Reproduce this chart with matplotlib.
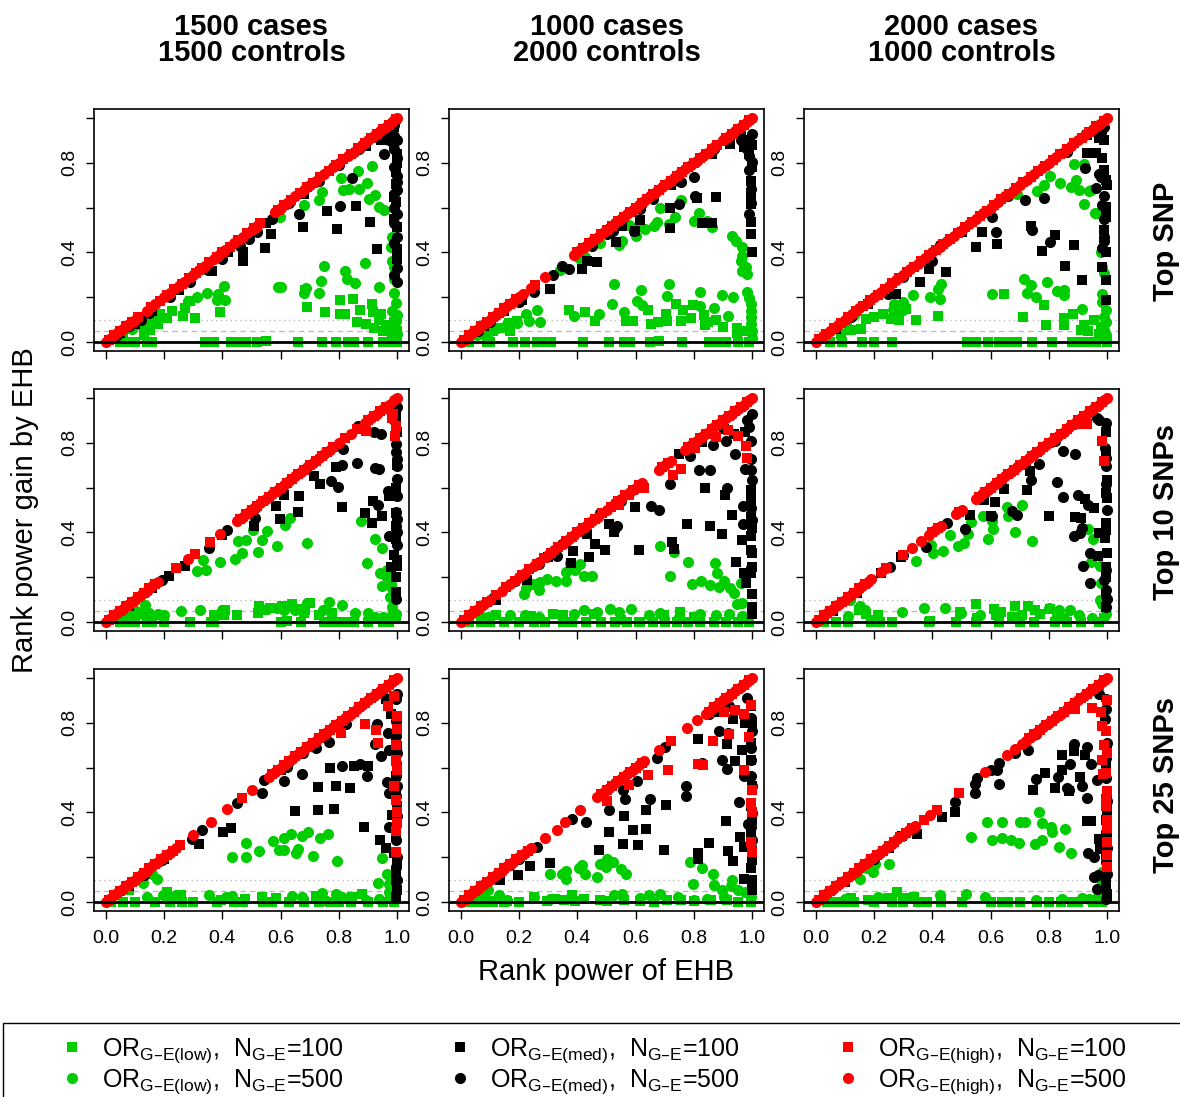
import matplotlib
matplotlib.use("Agg")
import matplotlib.pyplot as plt
from matplotlib.lines import Line2D
from matplotlib.patches import Rectangle

plt.rcParams['font.family'] = ['Liberation Sans', 'DejaVu Sans']
plt.rcParams['mathtext.default'] = 'regular'

col_title_top = ["1500 cases", "1000 cases", "2000 cases"]
col_title_bottom = ["1500 controls", "2000 controls", "1000 controls"]
row_titles = ["Top SNP", "Top 10 SNPs", "Top 25 SNPs"]
x_ticks = [0.0, 0.2, 0.4, 0.6, 0.8, 1.0]
x_tick_labels = ["0.0", "0.2", "0.4", "0.6", "0.8", "1.0"]
y_tick_labels = ["0.0", "", "0.4", "", "0.8", ""]
ref_lines = [0.0, 0.05, 0.1]
legend_labels = [
    "OR$_{G\u2013E(low)}$,  N$_{G\u2013E}$=100", "OR$_{G\u2013E(low)}$,  N$_{G\u2013E}$=500",
    "OR$_{G\u2013E(med)}$,  N$_{G\u2013E}$=100", "OR$_{G\u2013E(med)}$,  N$_{G\u2013E}$=500",
    "OR$_{G\u2013E(high)}$,  N$_{G\u2013E}$=100", "OR$_{G\u2013E(high)}$,  N$_{G\u2013E}$=500",
]

# ---- panel row 1, col 1 ----
p11_gs = [(0.05,0.0),(0.08,0.0),(0.1,0.0),(0.14,0.0),(0.16,0.0),(0.34,0.0),(0.37,0.0),(0.43,0.0),(0.46,0.0),
          (0.48,0.0),(0.52,0.0),(0.55,0.005),(0.66,0.0),(0.74,0.0),(0.79,0.0),(0.83,0.0),(0.85,0.0),(0.9,0.0),
          (0.95,0.0),(0.97,0.0),(1.0,0.0),(0.99,0.01),(0.69,0.157),(0.684,0.232),(0.753,0.136),(0.805,0.187),
          (0.847,0.191),(0.805,0.127),(0.822,0.127),(0.872,0.142),(0.914,0.169),(0.916,0.132),(0.943,0.124),
          (0.937,0.097),(0.96,0.076),(0.977,0.064),(0.92,0.064),(0.95,0.05),(0.891,0.079),(0.862,0.091),
          (1.0,0.049),(0.306,0.109),(0.272,0.154),(0.266,0.117),(0.226,0.139),(0.209,0.109),(0.186,0.124),
          (0.18,0.079),(0.151,0.052),(0.117,0.076),(0.083,0.057),(0.392,0.132),(0.289,0.184),(0.13,0.03),
          (0.06,0.04),(0.98,0.03),(0.99,0.09)]
p11_gc = [(0.914,0.786),(0.865,0.762),(0.808,0.732),(0.813,0.677),(0.897,0.71),(0.87,0.685),(0.833,0.685),
          (0.902,0.64),(0.925,0.655),(0.937,0.602),(0.954,0.59),(0.742,0.67),(0.73,0.632),(0.679,0.61),
          (0.599,0.558),(0.748,0.341),(0.739,0.274),(0.819,0.315),(0.826,0.281),(0.856,0.262),(0.89,0.351),
          (0.937,0.247),(0.983,0.468),(0.977,0.423),(0.983,0.363),(0.989,0.333),(0.989,0.281),(0.989,0.221),
          (0.994,0.176),(0.983,0.139),(0.994,0.094),(1.0,0.034),(0.994,0.06),(1.0,0.12),(0.679,0.221),
          (0.73,0.221),(0.688,0.239),(0.59,0.247),(0.6,0.245),(0.404,0.251),(0.346,0.221),(0.386,0.214),
          (0.409,0.187),(0.38,0.187),(0.312,0.199),(0.283,0.184),(0.329,0.326),(0.117,0.1),(0.12,0.08),
          (0.16,0.1),(0.15,0.07),(0.09,0.06)]
p11_ks = [(0.675,0.513),(0.547,0.419),(0.47,0.40),(0.47,0.363),(0.567,0.483),(0.794,0.505),(0.759,0.583),
          (0.906,0.534),(0.929,0.413),(0.857,0.605),(0.894,0.876),(0.943,0.901),(0.994,0.759),(0.994,0.707),
          (0.988,0.647),(0.994,0.625),(1.0,0.513),(1.0,0.416),(1.0,0.371),(0.988,0.55),(1.0,0.84),(0.366,0.318),
          (0.98,0.93),(0.99,0.88),(1.0,0.8),(0.99,0.96),(0.05,0.04),(0.1,0.08),(0.16,0.14),(0.25,0.23),
          (0.42,0.4),(0.55,0.53),(0.68,0.66)]
p11_kc = [(0.04,0.03),(0.08,0.07),(0.12,0.1),(0.15,0.13),(0.22,0.2),(0.29,0.27),(0.35,0.32),(0.4,0.37),
          (0.46,0.43),(0.49,0.46),(0.52,0.49),(0.57,0.55),(0.63,0.62),(0.73,0.72),(0.8,0.79),(0.87,0.86),
          (0.93,0.92),(0.664,0.572),(0.803,0.605),(0.846,0.732),(0.954,0.839),(1.0,0.715),(1.0,0.677),
          (0.99,0.66),(1.0,0.266),(0.99,0.97),(0.98,0.95),(0.99,0.92),(1.0,0.9),(0.99,0.86),(1.0,0.82),
          (0.99,0.78),(1.0,0.74),(0.99,0.6),(1.0,0.57),(0.99,0.53),(1.0,0.47),(0.99,0.44),(1.0,0.33),
          (0.99,0.3),(0.95,0.93),(0.97,0.9)]
p11_rs = [(0.01,0.01),(0.03,0.03),(0.05,0.05),(0.07,0.07),(0.09,0.09),(0.11,0.11),(0.155,0.155),
          (0.185,0.185),(0.21,0.21),(0.235,0.235),(0.26,0.26),(0.285,0.285),(0.31,0.31),(0.33,0.33),
          (0.355,0.355),(0.38,0.38),(0.4,0.4),(0.425,0.425),(0.455,0.455),(0.485,0.485),(0.51,0.51),
          (0.53,0.53),(0.59,0.59),(0.61,0.61),(0.635,0.635),(0.665,0.665),(0.69,0.69),(0.71,0.71),
          (0.735,0.735),(0.765,0.765),(0.79,0.79),(0.815,0.815),(0.84,0.84),(0.865,0.865),(0.89,0.89),
          (0.91,0.91),(0.93,0.93),(0.95,0.95),(0.97,0.97),(0.995,0.995)]
p11_rc = [(0.0,0.0),(0.02,0.02),(0.04,0.04),(0.06,0.06),(0.08,0.08),(0.1,0.1),(0.14,0.14),(0.17,0.17),
          (0.2,0.2),(0.22,0.22),(0.25,0.25),(0.27,0.27),(0.3,0.3),(0.32,0.32),(0.34,0.34),(0.37,0.37),
          (0.39,0.39),(0.41,0.41),(0.44,0.44),(0.47,0.47),(0.5,0.5),(0.52,0.52),(0.58,0.58),(0.6,0.6),
          (0.62,0.62),(0.65,0.65),(0.68,0.68),(0.7,0.7),(0.72,0.72),(0.75,0.75),(0.78,0.78),(0.8,0.8),
          (0.83,0.83),(0.85,0.85),(0.88,0.88),(0.9,0.9),(0.92,0.92),(0.94,0.94),(0.96,0.96),(0.98,0.98),
          (0.99,0.99),(1.0,1.0)]

# ---- panel row 1, col 2 ----
p12_gs = [(0.03,0.0),(0.09,0.0),(0.1,0.0),(0.18,0.0),(0.22,0.0),(0.26,0.0),(0.29,0.0),(0.31,0.0),(0.42,0.0),
          (0.51,0.0),(0.56,0.0),(0.58,0.0),(0.65,0.0),(0.68,0.005),(0.76,0.0),(0.85,0.0),(0.88,0.0),(0.91,0.0),
          (0.95,0.0),(0.99,0.0),(0.373,0.145),(0.425,0.133),(0.462,0.096),(0.568,0.096),(0.591,0.093),
          (0.641,0.141),(0.651,0.081),(0.676,0.088),(0.705,0.126),(0.708,0.096),(0.737,0.168),(0.762,0.141),
          (0.756,0.093),(0.79,0.108),(0.796,0.165),(0.834,0.12),(0.836,0.075),(0.848,0.09),(0.877,0.1),
          (0.9,0.069),(0.948,0.063),(0.948,0.04),(0.983,0.048),(0.084,0.036),(0.112,0.048),(0.147,0.063),
          (0.164,0.085),(0.192,0.093),(0.17,0.05),(0.095,0.018)]
p12_gc = [(0.754,0.635),(0.685,0.599),(0.736,0.557),(0.713,0.527),(0.674,0.534),(0.662,0.519),(0.633,0.504),
          (0.605,0.512),(0.576,0.524),(0.602,0.475),(0.553,0.452),(0.542,0.434),(0.479,0.44),(0.427,0.38),
          (0.404,0.374),(0.341,0.32),(0.817,0.575),(0.8,0.542),(0.845,0.542),(0.862,0.512),(0.931,0.475),
          (0.943,0.452),(0.966,0.422),(0.966,0.385),(0.96,0.362),(0.977,0.337),(0.966,0.317),(0.983,0.305),
          (0.983,0.225),(0.989,0.198),(0.994,0.168),(0.994,0.138),(0.994,0.081),(1.0,0.048),(0.525,0.257),
          (0.713,0.257),(0.619,0.231),(0.822,0.223),(0.897,0.208),(0.934,0.201),(0.519,0.168),(0.605,0.183),
          (0.622,0.165),(0.559,0.133),(0.473,0.127),(0.387,0.115),(0.708,0.205),(0.822,0.163),(0.868,0.153),
          (0.916,0.118),(0.261,0.145),(0.224,0.123),(0.273,0.09),(0.233,0.093),(0.192,0.085),(0.158,0.081),
          (0.124,0.063),(0.089,0.048),(0.055,0.033),(0.994,0.11),(1.0,0.02)]
p12_ks = [(0.96,0.92),(0.98,0.9),(0.97,0.87),(1.0,0.88),(0.99,0.84),(0.994,0.534),(0.994,0.482),(1.0,0.4),
          (0.994,0.72),(0.994,0.617),(0.994,0.66),(1.0,0.78),(0.874,0.647),(0.811,0.644),(0.719,0.599),
          (0.719,0.507),(0.862,0.53),(0.828,0.53),(0.553,0.519),(0.533,0.445),(0.433,0.362),(0.467,0.355),
          (0.416,0.325),(0.307,0.235),(0.616,0.545),(0.597,0.497),(0.925,0.886),(0.862,0.841),(0.21,0.186),
          (0.15,0.14),(0.08,0.07),(0.72,0.7)]
p12_kc = [(0.8,0.737),(0.805,0.65),(0.748,0.617),(0.616,0.594),(0.594,0.497),(0.522,0.497),(0.347,0.34),
          (0.37,0.325),(0.318,0.298),(0.25,0.225),(0.754,0.714),(0.989,0.766),(0.994,0.684),(1.0,0.804),
          (0.99,0.83),(0.98,0.86),(0.97,0.88),(0.99,0.9),(1.0,0.93),(0.96,0.9),(0.994,0.62),(0.99,0.57),
          (0.45,0.43),(0.66,0.64),(0.73,0.72),(0.87,0.86),(0.1,0.09),(0.06,0.05),(0.2,0.18),(0.5,0.48)]
p12_rs = [(0.01,0.01),(0.03,0.03),(0.05,0.05),(0.07,0.07),(0.09,0.09),(0.11,0.11),(0.13,0.13),(0.15,0.15),
          (0.17,0.17),(0.19,0.19),(0.255,0.255),(0.4,0.4),(0.42,0.42),(0.44,0.44),(0.46,0.46),(0.48,0.48),
          (0.5,0.5),(0.52,0.52),(0.54,0.54),(0.56,0.56),(0.58,0.58),(0.6,0.6),(0.62,0.62),(0.64,0.64),
          (0.66,0.66),(0.68,0.68),(0.7,0.7),(0.72,0.72),(0.74,0.74),(0.76,0.76),(0.78,0.78),(0.8,0.8),
          (0.82,0.82),(0.84,0.84),(0.86,0.86),(0.88,0.88),(0.91,0.91),(0.93,0.93),(0.95,0.95),(0.97,0.97),
          (0.99,0.99)]
p12_rc = [(0.0,0.0),(0.02,0.02),(0.04,0.04),(0.06,0.06),(0.08,0.08),(0.1,0.1),(0.12,0.12),(0.14,0.14),
          (0.16,0.16),(0.18,0.18),(0.2,0.2),(0.215,0.215),(0.24,0.24),(0.29,0.29),(0.39,0.39),(0.41,0.41),
          (0.43,0.43),(0.45,0.45),(0.47,0.47),(0.49,0.49),(0.51,0.51),(0.53,0.53),(0.55,0.55),(0.57,0.57),
          (0.59,0.59),(0.61,0.61),(0.63,0.63),(0.65,0.65),(0.67,0.67),(0.69,0.69),(0.71,0.71),(0.73,0.73),
          (0.75,0.75),(0.77,0.77),(0.79,0.79),(0.81,0.81),(0.83,0.83),(0.85,0.85),(0.87,0.87),(0.9,0.9),
          (0.92,0.92),(0.94,0.94),(0.96,0.96),(0.98,0.98),(1.0,1.0)]

# ---- panel row 1, col 3 ----
p13_gs = [(0.05,0.0),(0.09,0.0),(0.16,0.0),(0.2,0.0),(0.26,0.0),(0.52,0.0),(0.55,0.0),(0.59,0.0),(0.63,0.0),
          (0.66,0.0),(0.69,0.0),(0.74,0.0),(0.81,0.0),(0.88,0.0),(0.9,0.0),(0.93,0.0),(0.96,0.0),(1.0,0.0),
          (0.646,0.213),(0.71,0.112),(0.784,0.164),(0.791,0.075),(0.851,0.109),(0.851,0.075),(0.883,0.124),
          (0.908,0.052),(0.92,0.075),(0.935,0.05),(0.954,0.097),(0.971,0.037),(0.977,0.067),(0.42,0.115),
          (0.345,0.1),(0.287,0.1),(0.259,0.104),(0.23,0.127),(0.201,0.112),(0.172,0.104),(0.276,0.142),
          (0.31,0.149),(0.155,0.06),(0.121,0.052),(0.086,0.037),(0.99,0.02)]
p13_gc = [(0.885,0.794),(0.92,0.793),(0.805,0.741),(0.839,0.708),(0.874,0.69),(0.891,0.723),(0.902,0.678),
          (0.92,0.618),(0.937,0.675),(0.945,0.678),(0.782,0.7),(0.759,0.675),(0.69,0.66),(0.957,0.574),
          (0.969,0.577),(0.977,0.402),(0.983,0.335),(0.989,0.306),(0.98,0.216),(0.983,0.179),(0.994,0.142),
          (0.994,0.089),(0.989,0.052),(0.914,0.149),(0.713,0.283),(0.739,0.253),(0.726,0.219),(0.755,0.201),
          (0.793,0.268),(0.826,0.228),(0.851,0.231),(0.851,0.209),(0.603,0.213),(0.431,0.261),(0.42,0.238),
          (0.391,0.201),(0.425,0.194),(0.333,0.209),(0.301,0.179),(0.27,0.171),(0.264,0.142),(0.299,0.142),
          (0.132,0.119),(0.103,0.089),(0.115,0.06),(0.994,0.03),(0.99,0.11)]
p13_ks = [(0.931,0.842),(0.983,0.82),(0.989,0.768),(0.994,0.723),(0.998,0.7),(0.989,0.499),(0.994,0.559),
          (0.994,0.604),(0.983,0.335),(0.994,0.276),(0.994,0.186),(0.914,0.276),(0.856,0.338),(0.885,0.435),
          (0.822,0.477),(0.776,0.405),(0.738,0.517),(0.623,0.437),(0.571,0.489),(0.549,0.425),(0.448,0.313),
          (0.389,0.328),(0.356,0.268),(0.276,0.216),(0.931,0.924),(0.971,0.909),(0.96,0.842),(0.99,0.9),
          (0.994,0.4),(0.07,0.06),(0.18,0.17),(0.5,0.49)]
p13_kc = [(0.716,0.636),(0.782,0.645),(0.603,0.559),(0.617,0.492),(0.802,0.447),(0.741,0.499),(0.925,0.775),
          (0.96,0.686),(0.977,0.738),(0.97,0.75),(0.989,0.65),(0.983,0.61),(0.989,0.47),(0.983,0.42),
          (0.989,0.45),(0.99,0.55),(0.425,0.432),(0.4,0.361),(0.247,0.216),(0.977,0.939),(0.96,0.95),
          (0.99,0.96),(0.86,0.85),(0.66,0.65),(0.38,0.37),(0.3,0.29),(0.12,0.11)]
p13_rs = [(0.012,0.012),(0.037,0.037),(0.062,0.062),(0.087,0.087),(0.112,0.112),(0.137,0.137),
          (0.162,0.162),(0.187,0.187),(0.212,0.212),(0.237,0.237),(0.262,0.262),(0.287,0.287),
          (0.312,0.312),(0.337,0.337),(0.362,0.362),(0.387,0.387),(0.412,0.412),(0.437,0.437),
          (0.462,0.462),(0.487,0.487),(0.512,0.512),(0.537,0.537),(0.562,0.562),(0.587,0.587),
          (0.612,0.612),(0.637,0.637),(0.662,0.662),(0.687,0.687),(0.712,0.712),(0.737,0.737),
          (0.762,0.762),(0.787,0.787),(0.812,0.812),(0.837,0.837),(0.862,0.862),(0.887,0.887),
          (0.912,0.912),(0.937,0.937),(0.962,0.962),(0.987,0.987)]
p13_rc = [(0.0,0.0),(0.025,0.025),(0.05,0.05),(0.075,0.075),(0.1,0.1),(0.125,0.125),(0.15,0.15),
          (0.175,0.175),(0.2,0.2),(0.225,0.225),(0.25,0.25),(0.275,0.275),(0.3,0.3),(0.325,0.325),
          (0.35,0.35),(0.375,0.375),(0.4,0.4),(0.425,0.425),(0.45,0.45),(0.475,0.475),(0.5,0.5),
          (0.525,0.525),(0.55,0.55),(0.575,0.575),(0.6,0.6),(0.625,0.625),(0.65,0.65),(0.675,0.675),
          (0.7,0.7),(0.725,0.725),(0.75,0.75),(0.775,0.775),(0.8,0.8),(0.825,0.825),(0.85,0.85),
          (0.875,0.875),(0.9,0.9),(0.925,0.925),(0.95,0.95),(0.975,0.975),(1.0,1.0)]

# ---- panel row 2, col 1 ----
p21_gs = [(0.05,0.0),(0.08,0.0),(0.1,0.0),(0.14,0.0),(0.16,0.0),(0.2,0.0),(0.29,0.0),(0.36,0.0),(0.37,0.0),
          (0.6,0.0),(0.67,0.0),(0.75,0.0),(0.78,0.0),(0.8,0.0),(0.82,0.0),(0.85,0.0),(0.9,0.0),(0.95,0.0),
          (0.97,0.0),(0.525,0.07),(0.537,0.052),(0.562,0.063),(0.605,0.07),(0.639,0.079),(0.662,0.06),
          (0.685,0.052),(0.699,0.085),(0.68,0.04),(0.41,0.052),(0.407,0.033),(0.373,0.033),(0.45,0.033),
          (0.521,0.042),(0.731,0.03),(0.777,0.04),(0.622,0.003),(0.06,0.037),(0.078,0.02),(0.994,0.02)]
p21_gc = [(0.877,0.452),(0.922,0.371),(0.948,0.329),(0.895,0.265),(0.965,0.232),(0.94,0.217),(0.96,0.205),
          (0.946,0.162),(0.977,0.169),(0.974,0.21),(0.98,0.15),(0.975,0.112),(0.983,0.067),(0.997,0.037),
          (0.691,0.352),(0.633,0.464),(0.614,0.434),(0.553,0.407),(0.536,0.364),(0.505,0.412),(0.481,0.367),
          (0.454,0.362),(0.467,0.31),(0.522,0.314),(0.444,0.281),(0.588,0.341),(0.391,0.266),(0.333,0.275),
          (0.313,0.229),(0.345,0.232),(0.135,0.075),(0.103,0.049),(0.09,0.03),(0.124,0.037),(0.179,0.037),
          (0.259,0.048),(0.322,0.055),(0.399,0.055),(0.767,0.09),(0.746,0.052),(0.855,0.042),(0.9,0.042),
          (0.925,0.022),(0.95,0.022),(0.98,0.03),(0.691,0.085),(0.648,0.052),(0.553,0.057),(0.588,0.063),
          (0.61,0.055),(0.811,0.075),(0.055,0.03),(0.15,0.04),(0.2,0.03)]
p21_ks = [(0.714,0.651),(0.734,0.617),(0.788,0.692),(0.811,0.513),(0.662,0.561),(0.658,0.49),(0.61,0.569),
          (0.584,0.516),(0.596,0.461),(0.507,0.427),(0.273,0.25),(0.218,0.205),(0.889,0.487),(0.914,0.442),
          (0.948,0.472),(0.916,0.542),(0.971,0.561),(0.994,0.599),(0.994,0.966),(0.994,0.92),(1.0,0.85),
          (0.994,0.487),(0.994,0.43),(1.0,0.277),(1.0,0.25),(0.989,0.299),(0.994,0.202),(0.994,0.135),
          (0.977,0.247),(1.0,0.7),(0.994,0.37),(0.08,0.07),(0.16,0.15),(0.4,0.39)]
p21_kc = [(0.866,0.873),(0.92,0.846),(0.945,0.838),(0.814,0.774),(0.811,0.701),(0.863,0.711),(0.771,0.629),
          (0.796,0.603),(0.922,0.689),(0.937,0.681),(0.935,0.521),(0.969,0.584),(0.971,0.382),(0.994,0.793),
          (0.994,0.76),(0.998,0.726),(1.0,0.696),(1.0,0.639),(1.0,0.561),(0.994,0.49),(0.998,0.46),
          (0.994,0.427),(1.0,0.4),(1.0,0.344),(0.994,0.105),(1.0,0.958),(0.98,0.958),(0.99,0.9),(0.511,0.464),
          (0.513,0.509),(0.416,0.412),(0.353,0.329),(0.192,0.187),(0.591,0.59),(0.6,0.59)]
p21_rs = [(0.24,0.24),(0.307,0.305),(0.356,0.355),(0.891,0.853),(0.992,0.831),(0.994,0.876),(0.98,0.91),
          (0.01,0.01),(0.03,0.03),(0.05,0.05),(0.07,0.07),(0.09,0.09),(0.11,0.11),(0.13,0.13),(0.15,0.15),
          (0.17,0.17),(0.46,0.46),(0.48,0.48),(0.5,0.5),(0.52,0.52),(0.54,0.54),(0.56,0.56),(0.58,0.58),
          (0.6,0.6),(0.62,0.62),(0.64,0.64),(0.66,0.66),(0.68,0.68),(0.7,0.7),(0.72,0.72),(0.74,0.74),
          (0.76,0.76),(0.78,0.78),(0.82,0.82),(0.86,0.86),(0.9,0.9),(0.92,0.92),(0.94,0.94),(0.96,0.96),
          (0.985,0.93)]
p21_rc = [(0.0,0.0),(0.02,0.02),(0.04,0.04),(0.06,0.06),(0.08,0.08),(0.1,0.1),(0.12,0.12),(0.14,0.14),
          (0.16,0.16),(0.18,0.18),(0.282,0.28),(0.393,0.393),(0.45,0.45),(0.47,0.47),(0.49,0.49),
          (0.51,0.51),(0.53,0.53),(0.55,0.55),(0.57,0.57),(0.59,0.59),(0.61,0.61),(0.63,0.63),(0.65,0.65),
          (0.67,0.67),(0.69,0.69),(0.71,0.71),(0.73,0.73),(0.75,0.75),(0.77,0.77),(0.8,0.8),(0.84,0.84),
          (0.89,0.89),(0.91,0.91),(0.93,0.93),(0.95,0.95),(0.97,0.97),(0.99,0.99),(1.0,1.0)]

# ---- panel row 2, col 2 ----
p22_gs = [(0.03,0.0),(0.07,0.0),(0.1,0.0),(0.15,0.0),(0.2,0.0),(0.25,0.0),(0.29,0.0),(0.35,0.0),(0.38,0.0),
          (0.43,0.0),(0.48,0.0),(0.53,0.0),(0.57,0.0),(0.61,0.0),(0.66,0.0),(0.7,0.0),(0.74,0.0),(0.78,0.0),
          (0.82,0.0),(0.87,0.0),(0.91,0.0),(0.95,0.0),(0.99,0.0),(0.24,0.025),(0.318,0.037),(0.35,0.03),
          (0.456,0.037),(0.548,0.008),(0.616,0.0),(0.696,0.033),(0.751,0.045),(0.8,0.022),(0.12,0.03)]
p22_gc = [(0.685,0.34),(0.731,0.311),(0.779,0.269),(0.872,0.262),(0.88,0.22),(0.717,0.205),(0.794,0.169),
          (0.825,0.183),(0.854,0.165),(0.885,0.157),(0.902,0.183),(0.923,0.15),(0.937,0.13),(0.96,0.172),
          (0.946,0.082),(0.965,0.085),(0.376,0.265),(0.408,0.259),(0.362,0.225),(0.391,0.232),(0.362,0.184),
          (0.327,0.184),(0.297,0.19),(0.273,0.18),(0.247,0.169),(0.225,0.15),(0.216,0.127),(0.267,0.145),
          (0.424,0.205),(0.45,0.205),(0.17,0.03),(0.22,0.03),(0.27,0.022),(0.387,0.037),(0.422,0.055),
          (0.467,0.045),(0.511,0.06),(0.542,0.045),(0.585,0.06),(0.645,0.03),(0.683,0.04),(0.75,0.022),
          (0.82,0.037),(0.874,0.03),(0.92,0.037),(0.966,0.025),(0.983,0.02),(0.095,0.022),(0.066,0.03)]
p22_ks = [(0.748,0.749),(0.837,0.599),(0.905,0.569),(0.777,0.437),(0.855,0.43),(0.897,0.394),(0.929,0.479),
          (0.963,0.367),(0.943,0.269),(0.971,0.217),(0.977,0.172),(0.723,0.356),(0.731,0.325),(0.611,0.322),
          (0.599,0.512),(0.507,0.439),(0.525,0.404),(0.462,0.349),(0.496,0.322),(0.441,0.289),(0.433,0.394),
          (0.384,0.319),(0.378,0.262),(0.227,0.187),(0.903,0.861),(0.937,0.838),(0.974,0.846),(0.828,0.804),
          (0.994,0.59),(0.997,0.545),(0.994,0.47),(1.0,0.42),(0.994,0.382),(0.994,0.322),(1.0,0.307),
          (1.0,0.247),(0.994,0.217),(1.0,0.127),(1.0,0.067),(1.0,0.037),(0.12,0.1),(0.3,0.29)]
p22_kc = [(0.786,0.741),(0.866,0.789),(0.908,0.808),(0.817,0.678),(0.855,0.678),(0.94,0.749),(0.912,0.599),
          (0.719,0.614),(0.654,0.516),(0.681,0.501),(0.968,0.516),(0.969,0.439),(0.975,0.684),(0.536,0.427),
          (0.525,0.41),(0.479,0.487),(0.33,0.296),(0.347,0.347),(0.187,0.183),(0.112,0.108),(0.994,0.81),
          (0.994,0.726),(1.0,0.636),(0.994,0.68),(0.997,0.51),(1.0,0.457),(0.994,0.24),(0.98,0.9),
          (0.99,0.87),(1.0,0.93),(0.55,0.54),(0.27,0.26)]
p22_rs = [(0.756,0.681),(0.727,0.657),(0.805,0.778),(0.874,0.828),(0.916,0.856),(0.952,0.831),(0.979,0.786),
          (0.98,0.733),(0.63,0.599),(0.576,0.569),(0.544,0.524),(0.01,0.01),(0.03,0.03),(0.05,0.05),
          (0.07,0.07),(0.09,0.09),(0.12,0.12),(0.155,0.155),(0.185,0.185),(0.21,0.21),(0.235,0.235),
          (0.26,0.26),(0.285,0.285),(0.31,0.31),(0.335,0.335),(0.36,0.36),(0.38,0.38),(0.4,0.4),(0.42,0.42),
          (0.44,0.44),(0.46,0.46),(0.485,0.485),(0.515,0.515),(0.54,0.54),(0.565,0.565),(0.59,0.59),
          (0.61,0.61),(0.69,0.69),(0.71,0.71),(0.78,0.78),(0.8,0.8),(0.82,0.82),(0.84,0.84),(0.86,0.86),
          (0.88,0.88),(0.9,0.9),(0.92,0.92),(0.94,0.94),(0.96,0.96),(0.98,0.98)]
p22_rc = [(0.0,0.0),(0.02,0.02),(0.04,0.04),(0.06,0.06),(0.08,0.08),(0.1,0.1),(0.14,0.14),(0.17,0.17),
          (0.2,0.2),(0.22,0.22),(0.25,0.25),(0.27,0.27),(0.3,0.3),(0.32,0.32),(0.35,0.35),(0.37,0.37),
          (0.39,0.39),(0.41,0.41),(0.43,0.43),(0.45,0.45),(0.47,0.47),(0.5,0.5),(0.53,0.53),(0.55,0.55),
          (0.58,0.58),(0.6,0.6),(0.62,0.62),(0.68,0.68),(0.7,0.7),(0.72,0.72),(0.77,0.77),(0.79,0.79),
          (0.81,0.81),(0.83,0.83),(0.85,0.85),(0.87,0.87),(0.89,0.89),(0.91,0.91),(0.93,0.93),(0.95,0.95),
          (0.97,0.97),(0.99,0.99),(1.0,1.0)]

# ---- panel row 2, col 3 ----
p23_gs = [(0.03,0.0),(0.07,0.0),(0.11,0.0),(0.19,0.0),(0.22,0.0),(0.26,0.0),(0.39,0.0),(0.48,0.0),(0.55,0.0),
          (0.63,0.0),(0.7,0.0),(0.75,0.0),(0.82,0.0),(0.86,0.0),(0.91,0.0),(0.97,0.0),(0.548,0.079),
          (0.61,0.06),(0.618,0.033),(0.637,0.045),(0.674,0.022),(0.683,0.07),(0.708,0.03),(0.728,0.07),
          (0.751,0.055),(0.768,0.037),(0.805,0.06),(0.828,0.03),(0.496,0.045),(0.553,0.02),(0.393,0.005),
          (0.147,0.052),(0.172,0.037),(0.213,0.033),(0.195,0.008),(0.99,0.02)]
p23_gc = [(0.656,0.513),(0.708,0.524),(0.658,0.472),(0.683,0.4),(0.742,0.362),(0.605,0.452),(0.607,0.415),
          (0.573,0.475),(0.591,0.37),(0.534,0.445),(0.521,0.394),(0.51,0.352),(0.487,0.341),(0.459,0.389),
          (0.436,0.317),(0.401,0.307),(0.396,0.344),(0.344,0.272),(0.935,0.416),(0.952,0.37),(0.943,0.269),
          (0.974,0.25),(0.977,0.175),(0.974,0.1),(0.983,0.08),(0.997,0.037),(0.116,0.097),(0.152,0.07),
          (0.17,0.052),(0.112,0.025),(0.296,0.045),(0.373,0.063),(0.442,0.064),(0.498,0.042),(0.562,0.03),
          (0.8,0.063),(0.834,0.055),(0.871,0.052),(0.851,0.02),(0.903,0.03),(0.948,0.02),(0.822,0.008)]
p23_ks = [(0.734,0.672),(0.723,0.591),(0.645,0.594),(0.616,0.536),(0.576,0.546),(0.8,0.475),(0.889,0.469),
          (0.908,0.464),(0.923,0.549),(0.954,0.509),(0.971,0.397),(0.992,0.374),(0.969,0.295),(0.601,0.472),
          (0.53,0.479),(0.225,0.22),(0.293,0.29),(0.994,0.846),(0.994,0.757),(1.0,0.636),(0.994,0.576),
          (1.0,0.552),(0.994,0.442),(0.994,0.412),(1.0,0.307),(0.994,0.247),(0.994,0.202),(0.994,0.127),
          (0.994,0.067),(0.06,0.05),(0.14,0.13)]
p23_kc = [(0.849,0.763),(0.889,0.749),(0.765,0.707),(0.828,0.624),(0.849,0.557),(0.9,0.569),(0.935,0.521),
          (0.912,0.419),(0.885,0.382),(0.906,0.397),(0.94,0.307),(0.916,0.25),(0.939,0.175),(0.674,0.494),
          (0.691,0.479),(0.738,0.632),(0.605,0.472),(0.513,0.415),(0.379,0.334),(0.301,0.299),(0.255,0.247),
          (0.966,0.909),(0.97,0.9),(0.994,0.889),(0.992,0.778),(0.994,0.733),(0.997,0.696),(0.994,0.614),
          (1.0,0.499),(0.994,0.232),(0.989,0.187),(0.994,0.142),(1.0,0.105),(0.994,0.067),(0.45,0.44),
          (0.82,0.81)]
p23_rs = [(0.903,0.883),(0.931,0.883),(0.983,0.808),(0.99,0.72),(0.3,0.3),(0.24,0.24),(0.01,0.01),
          (0.03,0.03),(0.05,0.05),(0.07,0.07),(0.09,0.09),(0.11,0.11),(0.13,0.13),(0.15,0.15),(0.17,0.17),
          (0.4,0.4),(0.42,0.42),(0.49,0.49),(0.56,0.56),(0.58,0.58),(0.6,0.6),(0.62,0.62),(0.64,0.64),
          (0.66,0.66),(0.68,0.68),(0.7,0.7),(0.72,0.72),(0.74,0.74),(0.76,0.76),(0.78,0.78),(0.8,0.8),
          (0.82,0.82),(0.84,0.84),(0.86,0.86),(0.88,0.88),(0.9,0.9),(0.92,0.92),(0.94,0.94),(0.96,0.96),
          (0.98,0.98)]
p23_rc = [(0.0,0.0),(0.02,0.02),(0.04,0.04),(0.06,0.06),(0.08,0.08),(0.1,0.1),(0.12,0.12),(0.14,0.14),
          (0.16,0.16),(0.18,0.18),(0.19,0.19),(0.225,0.225),(0.24,0.24),(0.33,0.33),(0.36,0.36),(0.39,0.39),
          (0.41,0.41),(0.43,0.43),(0.48,0.48),(0.5,0.5),(0.55,0.55),(0.57,0.57),(0.59,0.59),(0.61,0.61),
          (0.63,0.63),(0.65,0.65),(0.67,0.67),(0.69,0.69),(0.71,0.71),(0.73,0.73),(0.75,0.75),(0.77,0.77),
          (0.79,0.79),(0.81,0.81),(0.83,0.83),(0.85,0.85),(0.87,0.87),(0.89,0.89),(0.91,0.91),(0.93,0.93),
          (0.95,0.95),(0.97,0.97),(0.99,0.99),(1.0,1.0)]

# ---- panel row 3, col 1 ----
p31_gs = [(0.02,0.0),(0.06,0.0),(0.1,0.0),(0.17,0.0),(0.22,0.0),(0.26,0.0),(0.3,0.0),(0.38,0.0),(0.44,0.0),
          (0.47,0.0),(0.54,0.0),(0.57,0.0),(0.63,0.0),(0.68,0.0),(0.73,0.0),(0.77,0.0),(0.8,0.0),(0.84,0.0),
          (0.9,0.0),(0.95,0.0),(0.99,0.0),(0.08,0.052),(0.21,0.045),(0.257,0.03),(0.394,0.01),(0.477,0.015),
          (0.537,0.022),(0.585,0.02),(0.72,0.025),(0.75,0.004),(0.846,0.022),(0.88,0.037)]
p31_gc = [(0.482,0.262),(0.434,0.202),(0.48,0.199),(0.526,0.229),(0.574,0.272),(0.594,0.232),(0.61,0.232),
          (0.611,0.284),(0.634,0.304),(0.674,0.296),(0.695,0.314),(0.659,0.235),(0.654,0.217),(0.71,0.205),
          (0.735,0.284),(0.761,0.304),(0.792,0.184),(0.946,0.195),(0.966,0.127),(0.934,0.087),(0.971,0.082),
          (0.988,0.09),(0.971,0.045),(0.128,0.087),(0.16,0.127),(0.175,0.105),(0.143,0.022),(0.197,0.03),
          (0.24,0.03),(0.354,0.03),(0.411,0.022),(0.434,0.027),(0.64,0.025),(0.674,0.022),(0.743,0.04),
          (0.789,0.037),(0.811,0.022),(0.84,0.02),(0.891,0.01),(0.937,0.015),(0.974,0.022)]
p31_ks = [(0.769,0.599),(0.851,0.609),(0.901,0.609),(0.728,0.513),(0.789,0.516),(0.838,0.509),(0.649,0.407),
          (0.728,0.409),(0.783,0.415),(0.886,0.337),(0.402,0.311),(0.431,0.332),(0.32,0.259),(0.941,0.277),
          (0.96,0.24),(0.981,0.389),(0.96,0.906),(0.977,0.838),(0.994,0.741),(1.0,0.696),(0.997,0.561),
          (0.994,0.487),(1.0,0.427),(0.994,0.292),(0.989,0.217),(1.0,0.172),(0.997,0.127),(0.994,0.097),
          (1.0,0.052),(0.994,0.022),(0.08,0.07),(0.2,0.19),(0.6,0.59)]
p31_kc = [(0.929,0.793),(0.968,0.753),(0.923,0.707),(0.971,0.678),(0.945,0.651),(0.897,0.564),(0.872,0.614),
          (0.811,0.609),(0.672,0.572),(0.611,0.539),(0.766,0.714),(0.823,0.793),(0.72,0.689),(0.675,0.663),
          (0.623,0.603),(0.535,0.487),(0.543,0.546),(0.329,0.322),(0.295,0.28),(0.194,0.187),(0.963,0.534),
          (0.971,0.487),(0.971,0.337),(1.0,0.928),(0.994,0.906),(0.994,0.808),(0.997,0.741),(1.0,0.666),
          (0.997,0.621),(0.994,0.561),(1.0,0.516),(0.994,0.472),(1.0,0.382),(0.994,0.277),(1.0,0.202),
          (0.994,0.157),(1.0,0.097),(0.13,0.12),(0.45,0.44)]
p31_rs = [(0.255,0.255),(0.466,0.466),(0.889,0.793),(0.926,0.768),(0.935,0.711),(0.806,0.756),(0.969,0.876),
          (1.0,0.771),(0.994,0.7),(0.997,0.636),(1.0,0.59),(0.994,0.457),(1.0,0.352),(0.997,0.315),
          (0.994,0.225),(0.99,0.92),(1.0,0.83),(0.99,0.52),(1.0,0.4),(0.01,0.01),(0.03,0.03),(0.05,0.05),
          (0.07,0.07),(0.09,0.09),(0.11,0.11),(0.13,0.13),(0.15,0.15),(0.17,0.17),(0.19,0.19),(0.21,0.21),
          (0.23,0.23),(0.57,0.57),(0.59,0.59),(0.61,0.61),(0.63,0.63),(0.65,0.65),(0.67,0.67),(0.69,0.69),
          (0.71,0.71),(0.73,0.73),(0.75,0.75),(0.77,0.77),(0.79,0.79),(0.81,0.81),(0.83,0.83),(0.85,0.85),
          (0.87,0.87),(0.89,0.89),(0.91,0.91),(0.93,0.93),(0.95,0.95),(0.97,0.97),(0.99,0.99)]
p31_rc = [(0.0,0.0),(0.02,0.02),(0.04,0.04),(0.06,0.06),(0.08,0.08),(0.1,0.1),(0.12,0.12),(0.14,0.14),
          (0.16,0.16),(0.18,0.18),(0.2,0.2),(0.22,0.22),(0.24,0.24),(0.3,0.3),(0.36,0.355),(0.417,0.415),
          (0.5,0.5),(0.56,0.56),(0.58,0.58),(0.6,0.6),(0.62,0.62),(0.64,0.64),(0.66,0.66),(0.68,0.68),
          (0.7,0.7),(0.72,0.72),(0.74,0.74),(0.76,0.76),(0.78,0.78),(0.8,0.8),(0.82,0.82),(0.84,0.84),
          (0.86,0.86),(0.88,0.88),(0.9,0.9),(0.92,0.92),(0.94,0.94),(0.96,0.96),(0.98,0.98),(1.0,1.0)]

# ---- panel row 3, col 2 ----
p32_gs = [(0.02,0.0),(0.05,0.0),(0.08,0.0),(0.11,0.0),(0.15,0.0),(0.25,0.022),(0.296,0.004),(0.324,0.015),
          (0.353,0.01),(0.381,0.03),(0.393,0.004),(0.422,0.015),(0.479,0.01),(0.502,0.004),(0.559,0.01),
          (0.616,0.004),(0.662,0.0),(0.708,0.01),(0.754,0.007),(0.8,0.004),(0.857,0.01),(0.914,0.007),
          (0.95,0.0),(0.994,0.0),(0.055,0.004),(0.112,0.004),(0.158,0.004),(0.2,0.0)]
p32_gc = [(0.786,0.177),(0.826,0.154),(0.866,0.127),(0.797,0.082),(0.87,0.078),(0.897,0.052),(0.931,0.1),
          (0.926,0.07),(0.952,0.052),(0.974,0.045),(0.994,0.022),(0.502,0.192),(0.522,0.18),(0.479,0.169),
          (0.498,0.157),(0.467,0.112),(0.551,0.147),(0.567,0.123),(0.416,0.165),(0.404,0.15),(0.425,0.127),
          (0.362,0.139),(0.347,0.127),(0.307,0.124),(0.362,0.105),(0.095,0.052),(0.084,0.07),(0.078,0.03),
          (0.25,0.022),(0.307,0.015),(0.376,0.02),(0.525,0.03),(0.553,0.037),(0.616,0.02),(0.645,0.03),
          (0.685,0.037),(0.745,0.022),(0.8,0.007),(0.845,0.015),(0.902,0.022),(0.13,0.03),(0.16,0.01)]
p32_ks = [(0.813,0.726),(0.912,0.704),(0.94,0.629),(0.966,0.677),(0.934,0.816),(0.974,0.801),(0.88,0.846),
          (0.704,0.434),(0.637,0.412),(0.561,0.385),(0.507,0.311),(0.59,0.322),(0.637,0.325),(0.555,0.257),
          (0.607,0.254),(0.473,0.232),(0.696,0.232),(0.813,0.217),(0.813,0.19),(0.851,0.262),(0.91,0.362),
          (0.958,0.292),(0.971,0.244),(0.916,0.228),(0.934,0.183),(0.307,0.172),(0.238,0.16),(0.198,0.12),
          (0.135,0.1),(0.994,0.876),(1.0,0.801),(0.994,0.711),(0.997,0.636),(1.0,0.516),(0.994,0.427),
          (1.0,0.367),(0.994,0.307),(1.0,0.187),(0.994,0.15),(1.0,0.097),(1.0,0.052),(0.971,0.105)]
p32_kc = [(0.885,0.763),(0.916,0.753),(0.912,0.594),(0.895,0.632),(0.826,0.621),(0.771,0.519),(0.771,0.475),
          (0.954,0.445),(0.985,0.349),(0.971,0.561),(0.648,0.46),(0.603,0.539),(0.562,0.46),(0.556,0.501),
          (0.507,0.412),(0.43,0.359),(0.261,0.244),(0.2,0.192),(0.17,0.165),(0.674,0.641),(0.92,0.876),
          (0.98,0.909),(0.994,0.823),(1.0,0.763),(0.994,0.689),(0.997,0.636),(0.996,0.561),(1.0,0.516),
          (1.0,0.397),(0.994,0.337),(1.0,0.277),(0.994,0.247),(0.38,0.37),(0.7,0.69),(0.85,0.84)]
p32_rs = [(0.72,0.719),(0.903,0.85),(0.939,0.858),(0.971,0.841),(0.92,0.749),(0.866,0.719),(0.814,0.617),
          (0.83,0.61),(0.711,0.591),(0.641,0.569),(0.576,0.524),(0.502,0.449),(0.971,0.591),(0.989,0.737),
          (0.994,0.442),(1.0,0.4),(0.998,0.225),(0.994,0.27),(0.994,0.88),(1.0,0.5),(0.01,0.01),(0.03,0.03),
          (0.05,0.05),(0.07,0.07),(0.09,0.09),(0.11,0.11),(0.13,0.13),(0.15,0.15),(0.17,0.17),(0.19,0.19),
          (0.21,0.21),(0.23,0.23),(0.48,0.48),(0.5,0.5),(0.52,0.52),(0.54,0.54),(0.56,0.56),(0.58,0.58),
          (0.6,0.6),(0.62,0.62),(0.85,0.85),(0.87,0.87),(0.89,0.89),(0.91,0.91),(0.93,0.93),(0.95,0.95),
          (0.97,0.97),(0.99,0.99)]
p32_rc = [(0.0,0.0),(0.02,0.02),(0.04,0.04),(0.06,0.06),(0.08,0.08),(0.1,0.1),(0.12,0.12),(0.14,0.14),
          (0.16,0.16),(0.18,0.18),(0.2,0.2),(0.22,0.22),(0.24,0.24),(0.29,0.284),(0.33,0.322),(0.359,0.357),
          (0.41,0.41),(0.467,0.467),(0.49,0.49),(0.51,0.51),(0.53,0.53),(0.55,0.55),(0.57,0.57),(0.59,0.59),
          (0.61,0.61),(0.63,0.63),(0.68,0.678),(0.777,0.777),(0.811,0.811),(0.84,0.84),(0.86,0.86),
          (0.88,0.88),(0.9,0.9),(0.92,0.92),(0.94,0.94),(0.96,0.96),(0.98,0.98),(1.0,1.0)]

# ---- panel row 3, col 3 ----
p33_gs = [(0.04,0.0),(0.07,0.0),(0.1,0.0),(0.13,0.0),(0.2,0.0),(0.26,0.0),(0.3,0.0),(0.35,0.0),(0.38,0.0),
          (0.43,0.0),(0.5,0.0),(0.6,0.0),(0.64,0.0),(0.66,0.0),(0.7,0.0),(0.76,0.0),(0.8,0.0),(0.84,0.0),
          (0.88,0.0),(0.9,0.0),(0.95,0.0),(0.98,0.0),(0.278,0.045),(0.261,0.02),(0.305,0.02),(0.336,0.022),
          (0.378,0.0),(0.12,0.02),(0.18,0.01)]
p33_gc = [(0.765,0.4),(0.702,0.356),(0.719,0.355),(0.777,0.352),(0.808,0.334),(0.811,0.314),(0.854,0.326),
          (0.639,0.355),(0.588,0.356),(0.533,0.292),(0.605,0.277),(0.639,0.284),(0.668,0.277),(0.696,0.265),
          (0.751,0.259),(0.777,0.277),(0.834,0.244),(0.874,0.217),(0.981,0.135),(0.977,0.097),(0.983,0.052),
          (0.25,0.169),(0.204,0.169),(0.195,0.132),(0.152,0.105),(0.175,0.15),(0.215,0.022),(0.238,0.02),
          (0.427,0.03),(0.517,0.037),(0.58,0.022),(0.754,0.008),(0.845,0.015),(0.914,0.02),(0.937,0.015),
          (0.966,0.02),(0.1,0.015)]
p33_ks = [(0.845,0.654),(0.885,0.674),(0.923,0.654),(0.845,0.591),(0.786,0.576),(0.906,0.558),(0.745,0.501),
          (0.822,0.509),(0.868,0.494),(0.929,0.362),(0.943,0.362),(0.971,0.28),(0.975,0.235),(0.433,0.379),
          (0.477,0.401),(0.349,0.304),(0.296,0.295),(0.997,0.763),(1.0,0.689),(0.994,0.629),(0.997,0.599),
          (1.0,0.412),(0.994,0.367),(1.0,0.307),(0.994,0.21),(1.0,0.187),(0.994,0.067),(1.0,0.037),
          (0.994,0.097),(0.1,0.09),(0.25,0.24)]
p33_kc = [(0.885,0.704),(0.931,0.693),(0.872,0.614),(0.943,0.614),(0.832,0.558),(0.754,0.549),(0.863,0.509),
          (0.87,0.5),(0.912,0.519),(0.931,0.464),(0.966,0.546),(0.727,0.677),(0.685,0.666),(0.628,0.528),
          (0.622,0.591),(0.63,0.621),(0.553,0.554),(0.547,0.528),(0.547,0.487),(0.479,0.445),(0.935,0.22),
          (0.954,0.202),(0.954,0.112),(0.969,0.12),(0.966,0.057),(0.754,0.749),(0.971,0.928),(0.994,0.906),
          (0.994,0.861),(0.992,0.816),(1.0,0.711),(0.997,0.644),(0.994,0.554),(0.994,0.472),(1.0,0.449),
          (0.997,0.427),(0.994,0.314),(0.997,0.277),(1.0,0.24),(0.994,0.18),(1.0,0.127),(0.994,0.015),
          (0.6,0.59),(0.2,0.19)]
p33_rs = [(0.37,0.364),(0.416,0.409),(0.49,0.487),(0.889,0.861),(0.946,0.864),(0.977,0.849),(0.98,0.786),
          (0.994,0.763),(0.998,0.666),(0.994,0.576),(1.0,0.494),(0.994,0.427),(0.998,0.367),(1.0,0.329),
          (0.998,0.269),(1.0,0.157),(0.98,0.636),(0.985,0.57),(1.0,0.9),(0.99,0.7),(1.0,0.21),(0.994,0.45),
          (0.01,0.01),(0.03,0.03),(0.05,0.05),(0.07,0.07),(0.09,0.09),(0.11,0.11),(0.13,0.13),(0.15,0.15),
          (0.17,0.17),(0.19,0.19),(0.21,0.21),(0.23,0.23),(0.25,0.25),(0.27,0.27),(0.29,0.29),(0.31,0.31),
          (0.33,0.33),(0.73,0.73),(0.75,0.75),(0.77,0.77),(0.79,0.79),(0.81,0.81),(0.83,0.83),(0.85,0.85),
          (0.87,0.87),(0.89,0.89),(0.91,0.91),(0.93,0.93),(0.95,0.95),(0.97,0.97),(0.99,0.99)]
p33_rc = [(0.0,0.0),(0.02,0.02),(0.04,0.04),(0.06,0.06),(0.08,0.08),(0.1,0.1),(0.12,0.12),(0.14,0.14),
          (0.16,0.16),(0.18,0.18),(0.2,0.2),(0.22,0.22),(0.24,0.24),(0.26,0.26),(0.28,0.28),(0.3,0.3),
          (0.32,0.32),(0.34,0.34),(0.391,0.389),(0.582,0.579),(0.656,0.654),(0.685,0.685),(0.706,0.706),
          (0.72,0.72),(0.74,0.74),(0.76,0.76),(0.78,0.78),(0.8,0.8),(0.82,0.82),(0.84,0.84),(0.86,0.86),
          (0.88,0.88),(0.9,0.9),(0.92,0.92),(0.94,0.94),(0.96,0.96),(0.98,0.98),(1.0,1.0)]

panels = [
    [(p11_gs, p11_gc, p11_ks, p11_kc, p11_rs, p11_rc),
     (p12_gs, p12_gc, p12_ks, p12_kc, p12_rs, p12_rc),
     (p13_gs, p13_gc, p13_ks, p13_kc, p13_rs, p13_rc)],
    [(p21_gs, p21_gc, p21_ks, p21_kc, p21_rs, p21_rc),
     (p22_gs, p22_gc, p22_ks, p22_kc, p22_rs, p22_rc),
     (p23_gs, p23_gc, p23_ks, p23_kc, p23_rs, p23_rc)],
    [(p31_gs, p31_gc, p31_ks, p31_kc, p31_rs, p31_rc),
     (p32_gs, p32_gc, p32_ks, p32_kc, p32_rs, p32_rc),
     (p33_gs, p33_gc, p33_ks, p33_kc, p33_rs, p33_rc)],
]

GREEN = "#00cd00"
RED = "#ff0000"
styles = [("s", GREEN), ("o", GREEN), ("s", "black"), ("o", "black"), ("s", RED), ("o", RED)]
SQ_SIZE = 46
CI_SIZE = 64

W, H = 1180, 1097
fig = plt.figure(figsize=(W / 100, H / 100), dpi=100)

col_left = [94, 449, 804]
row_top = [109, 389, 669]
ax_w, ax_h = 315, 242
row_label_y = [241, 512, 785]

for r in range(3):
    for c in range(3):
        ax = fig.add_axes([col_left[c] / W, 1 - (row_top[r] + ax_h) / H, ax_w / W, ax_h / H])
        for pts, (mk, col) in zip(panels[r][c], styles):
            xs = [p[0] for p in pts]
            ys = [p[1] for p in pts]
            ax.scatter(xs, ys, marker=mk, s=SQ_SIZE if mk == "s" else CI_SIZE,
                       color=col, linewidths=0, zorder=2)
        ax.axhline(ref_lines[0], color="black", lw=2.0, zorder=4)
        ax.axhline(ref_lines[1], color="#bdbdbd", lw=1.0, ls=(0, (4, 3)), zorder=1)
        ax.axhline(ref_lines[2], color="#bdbdbd", lw=1.0, ls=(0, (1, 2.5)), zorder=1)
        ax.set_xlim(-0.04, 1.04)
        ax.set_ylim(-0.04, 1.04)
        ax.set_xticks(x_ticks)
        ax.set_yticks(x_ticks)
        if r == 2:
            ax.set_xticklabels(x_tick_labels)
        else:
            ax.set_xticklabels([])
        ax.set_yticklabels(y_tick_labels)
        ax.tick_params(direction="out", length=6, width=1, labelsize=14)
        ax.tick_params(axis="x", pad=8)
        ax.tick_params(axis="y", pad=5, labelrotation=90)
        for lab in ax.get_yticklabels():
            lab.set_va("center")
        for sp in ax.spines.values():
            sp.set_linewidth(1.2)

for c in range(3):
    xc = (col_left[c] + ax_w / 2) / W
    fig.text(xc, 1 - 27 / H, col_title_top[c], ha="center", va="center", fontsize=21, fontweight="bold")
    fig.text(xc, 1 - 53 / H, col_title_bottom[c], ha="center", va="center", fontsize=21, fontweight="bold")

for r in range(3):
    fig.text(1166 / W, 1 - row_label_y[r] / H, row_titles[r], ha="center", va="center", rotation=90,
             fontsize=21, fontweight="bold")

fig.text(25 / W, 1 - 510 / H, "Rank power gain by EHB", ha="center", va="center",
         rotation=90, fontsize=21)
fig.text(606 / W, 1 - 972 / H, "Rank power of EHB", ha="center", va="center", fontsize=21)

# legend box
fig.patches.append(Rectangle((3 / W, -0.01), 1.1, (1097 - 1023) / H + 0.01, fill=False,
                             edgecolor="black", lw=1.0, transform=fig.transFigure, clip_on=False))

leg_x = [59.5, 447.5, 835.5]
for k in range(3):
    handles = []
    for j in range(2):
        mk, col = styles[2 * k + j]
        handles.append(Line2D([], [], ls="none", marker=mk, color=col,
                              markersize=7 if mk == "s" else 8, markeredgewidth=0))
    fig.legend(handles, legend_labels[2 * k:2 * k + 2], loc="center left",
               bbox_to_anchor=(leg_x[k] / W, 1 - 1066 / H), frameon=False,
               fontsize=18, handlelength=1.0, handletextpad=0.7, labelspacing=0.1,
               borderpad=0, borderaxespad=0)

fig.savefig("out.png", dpi=100)
